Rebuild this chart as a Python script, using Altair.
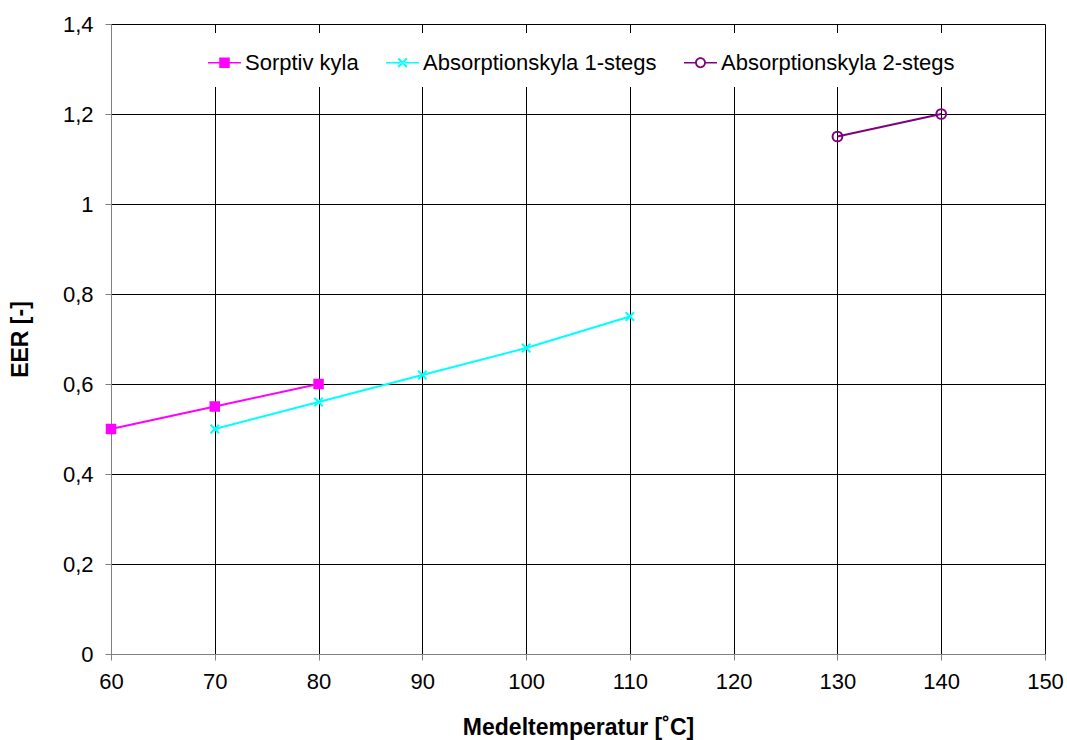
import altair as alt
import pandas as pd

# ---- data ----
series_names = ["Sorptiv kyla", "Absorptionskyla 1-stegs", "Absorptionskyla 2-stegs"]
series_colors = ["#FF00FF", "#00FFFF", "#800080"]

sorptiv_x = [60, 70, 80]
sorptiv_y = [0.50, 0.55, 0.60]
abs1_x = [70, 80, 90, 100, 110]
abs1_y = [0.50, 0.56, 0.62, 0.68, 0.75]
abs2_x = [130, 140]
abs2_y = [1.15, 1.20]

x_ticks = [60, 70, 80, 90, 100, 110, 120, 130, 140, 150]
y_ticks = [0, 0.2, 0.4, 0.6, 0.8, 1.0, 1.2, 1.4]

x_title = "Medeltemperatur [˚C]"
y_title = "EER [-]"

series_x = [sorptiv_x, abs1_x, abs2_x]
series_y = [sorptiv_y, abs1_y, abs2_y]

rows = []
for name, xs, ys in zip(series_names, series_x, series_y):
    for xv, yv in zip(xs, ys):
        rows.append({"temp": xv, "eer": yv, "series": name})
df = pd.DataFrame(rows)

FONT = "Liberation Sans"
FS = 22
TFS = 23

X = alt.X(
    "temp:Q",
    scale=alt.Scale(domain=[60, 150], nice=False, zero=False),
    axis=alt.Axis(
        values=x_ticks, title=x_title, grid=True, gridColor="#000000", gridWidth=1,
        domainColor="#808080", tickColor="#808080", tickSize=6, labelPadding=11,
        labelFont=FONT, labelFontSize=FS, labelColor="#000000", labelFlush=False,
        labelOverlap=False, titleFont=FONT, titleFontSize=TFS, titleFontWeight="bold",
        titleColor="#000000", titlePadding=24,
    ),
)
Y = alt.Y(
    "eer:Q",
    scale=alt.Scale(domain=[0, 1.4], nice=False),
    axis=alt.Axis(
        values=y_ticks, title=y_title, grid=True, gridColor="#000000", gridWidth=1,
        domainColor="#808080", tickColor="#808080", tickSize=6, labelPadding=12,
        labelFont=FONT, labelFontSize=FS, labelColor="#000000", labelFlush=False,
        labelOverlap=False,
        labelExpr="replace(format(datum.value, '~g'), '.', ',')",
        titleFont=FONT, titleFontSize=TFS, titleFontWeight="bold",
        titleColor="#000000", titlePadding=30,
    ),
)

marker_specs = [
    dict(shape="square", filled=True, size=110, strokeWidth=0),
    dict(shape="M-1,-1L1,1M-1,1L1,-1", filled=False, size=70, strokeWidth=2),
    dict(shape="circle", filled=False, size=95, strokeWidth=2),
]

layers = []
for name, color, mspec in zip(series_names, series_colors, marker_specs):
    sub = df[df["series"] == name]
    layers.append(
        alt.Chart(sub).mark_line(color=color, strokeWidth=2).encode(x=X, y=Y)
    )
    layers.append(
        alt.Chart(sub).mark_point(color=color, opacity=1, **mspec).encode(x=X, y=Y)
    )

# legend symbols: line + marker drawn as filled paths
legend_shapes = [
    "M-1,-0.05H1V0.05H-1Z M-0.32,-0.32H0.32V0.32H-0.32Z",
    "M-1,-0.05H1V0.05H-1Z "
    "M0.218,0.302L0.302,0.218L-0.218,-0.302L-0.302,-0.218Z "
    "M-0.218,0.302L0.302,-0.218L0.218,-0.302L-0.302,0.218Z",
    "M-1,-0.05H-0.3V0.05H-1Z M0.3,-0.05H1V0.05H0.3Z "
    "M0.33,0A0.33,0.33 0 1,1 -0.33,0A0.33,0.33 0 1,1 0.33,0Z "
    "M0.22,0A0.22,0.22 0 1,0 -0.22,0A0.22,0.22 0 1,0 0.22,0Z",
]

leg = alt.Legend(
    orient="none", legendX=84, legendY=9, direction="horizontal", title=None,
    symbolSize=1089, symbolOpacity=1, symbolStrokeWidth=0,
    labelFont=FONT, labelFontSize=FS, labelColor="#000000", labelOffset=4,
    labelLimit=0, columnPadding=27, padding=13, fillColor="#FFFFFF",
)

legend_layer = alt.Chart(df).mark_point(filled=True, opacity=0).encode(
    x=X, y=Y,
    color=alt.Color("series:N", scale=alt.Scale(domain=series_names, range=series_colors), legend=leg),
    shape=alt.Shape("series:N", scale=alt.Scale(domain=series_names, range=legend_shapes), legend=leg),
)
layers.append(legend_layer)

chart = alt.layer(*layers).properties(
    width=934, height=630,
    autosize=alt.AutoSizeParams(type="none"),
    padding={"left": 111, "top": 24, "right": 22, "bottom": 86},
).configure_view(stroke="#808080", strokeWidth=1).configure(background="#FFFFFF")

chart.save("out.html", embed_options={"renderer": "svg", "actions": False})
